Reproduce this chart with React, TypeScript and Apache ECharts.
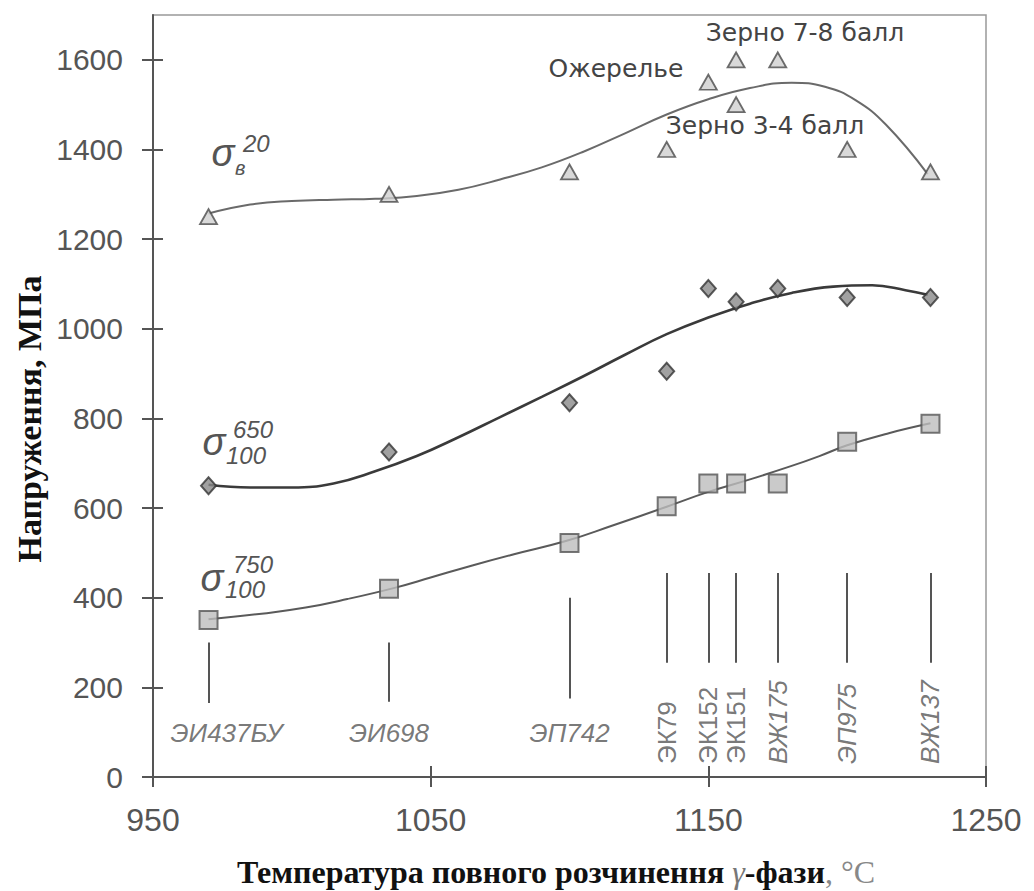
import React, { useEffect, useRef } from "react";
import * as echarts from "echarts";

// Axis ticks
const xTicks = [950, 1050, 1150, 1250];
const yTicks = [0, 200, 400, 600, 800, 1000, 1200, 1400, 1600];

// Alloys: full γ'-solvus temperature and the extent of their marker lines (MPa)
const alloyNames = ["ЭИ437БУ", "ЭИ698", "ЭП742", "ЭК79", "ЭК152", "ЭК151", "ВЖ175", "ЭП975", "ВЖ137"];
const alloyTemps = [970, 1035, 1100, 1135, 1150, 1160, 1175, 1200, 1230];
const alloyLineTop = [300, 300, 400, 455, 455, 455, 455, 455, 455];
const alloyLineBottom = [165, 168, 175, 255, 255, 255, 255, 255, 255];

// Ultimate tensile strength at 20 °C
const tensileT = [970, 1035, 1100, 1135, 1150, 1160, 1160, 1175, 1200, 1230];
const tensileV = [1250, 1300, 1350, 1400, 1550, 1600, 1500, 1600, 1400, 1350];

// 100 h rupture strength at 650 °C
const rupture650T = [970, 1035, 1100, 1135, 1150, 1160, 1175, 1200, 1230];
const rupture650V = [650, 725, 835, 905, 1090, 1060, 1090, 1070, 1070];

// 100 h rupture strength at 750 °C
const rupture750T = [970, 1035, 1100, 1135, 1150, 1160, 1175, 1200, 1230];
const rupture750V = [350, 420, 522, 604, 655, 655, 655, 748, 788];

// Trend curves
const tensileTrendT = [970, 985, 1000, 1015, 1030, 1045, 1060, 1075, 1090, 1105, 1120, 1135, 1150, 1165, 1180, 1192, 1203, 1214, 1229];
const tensileTrendV = [1257, 1277, 1285, 1288, 1290, 1296, 1310, 1333, 1360, 1395, 1436, 1478, 1512, 1537, 1549, 1540, 1510, 1455, 1345];
const rupture650TrendT = [970, 985, 1000, 1015, 1030, 1045, 1060, 1075, 1090, 1105, 1120, 1135, 1150, 1165, 1180, 1195, 1209, 1221, 1229];
const rupture650TrendV = [652, 646, 646, 655, 682, 716, 758, 803, 848, 894, 942, 988, 1025, 1056, 1080, 1094, 1097, 1086, 1076];
const rupture750TrendT = [970, 990, 1005, 1020, 1037, 1050, 1065, 1080, 1099, 1115, 1135, 1150, 1165, 1180, 1190, 1200, 1215, 1230];
const rupture750TrendV = [352, 365, 378, 397, 422, 445, 472, 497, 527, 560, 603, 636, 664, 694, 716, 740, 767, 789];

const zip = (a: number[], b: number[]) => a.map((v, i) => [v, b[i]]);

const SANS = "'Liberation Sans', Arial, sans-serif";
const SERIF = "'Liberation Serif', 'Times New Roman', serif";
const GRAY = "#555";

function buildOption(): echarts.EChartsOption {
  const uprightAlloys = new Set(["ЭК79", "ЭК152", "ЭК151"]);

  const alloyLabelData = alloyNames.map((name, i) => {
    const rotated = i >= 3;
    return {
      name,
      value: [alloyTemps[i], rotated ? 29 : 98],
      label: rotated
        ? {
            rotate: 90,
            align: "left",
            verticalAlign: "middle",
            fontStyle: uprightAlloys.has(name) ? "normal" : "italic",
          }
        : {
            rotate: 0,
            align: "center",
            verticalAlign: "middle",
            fontStyle: "italic",
            offset: i === 0 ? [18, 0] : [0, 0],
          },
    };
  });

  const tickStyle = { color: GRAY, width: 2 };
  const plain = (v: number) => String(v);

  const sigma = (x: number, y: number) => ({
    type: "text",
    x,
    y,
    style: { text: "σ", fontFamily: SANS, fontStyle: "italic", fontSize: 38, fill: GRAY, align: "center", verticalAlign: "middle" },
  });
  const idx = (text: string, x: number, y: number, size = 24) => ({
    type: "text",
    x,
    y,
    style: { text, fontFamily: SANS, fontStyle: "italic", fontSize: size, fill: GRAY, align: "left", verticalAlign: "middle" },
  });
  const note = (text: string, x: number, y: number) => ({
    type: "text",
    x,
    y,
    style: { text, fontFamily: "'DejaVu Sans', sans-serif", fontSize: 25, fill: "#444", align: "center", verticalAlign: "middle" },
  });

  return {
    animation: false,
    backgroundColor: "#fff",
    grid: { left: 153, right: 48, top: 15, bottom: 114, show: true, borderColor: "#999", borderWidth: 1.5 },
    xAxis: [
      {
        type: "value",
        min: 950,
        max: 1250,
        interval: 50,
        position: "bottom",
        axisLine: { lineStyle: { color: GRAY, width: 2 } },
        axisTick: { show: true, length: 10, customValues: xTicks, lineStyle: tickStyle },
        axisLabel: { customValues: xTicks, formatter: plain, fontFamily: SANS, fontSize: 32, color: GRAY, margin: 27 },
        splitLine: { show: false },
      },
      {
        type: "value",
        min: 950,
        max: 1250,
        interval: 50,
        position: "bottom",
        axisLine: { show: false },
        axisTick: { show: true, inside: true, length: 11, customValues: xTicks, lineStyle: tickStyle },
        axisLabel: { show: false },
        splitLine: { show: false },
      },
    ],
    yAxis: [
      {
        type: "value",
        min: 0,
        max: 1700,
        interval: 100,
        position: "left",
        axisLine: { show: true, lineStyle: { color: GRAY, width: 2 } },
        axisTick: { show: true, length: 11, customValues: yTicks, lineStyle: tickStyle },
        axisLabel: { customValues: yTicks, formatter: plain, fontFamily: SANS, fontSize: 30, color: GRAY, margin: 30 },
        splitLine: { show: false },
      },
      {
        type: "value",
        min: 0,
        max: 1700,
        interval: 100,
        position: "left",
        offset: 0,
        axisLine: { show: false },
        axisTick: { show: true, inside: true, length: 10, customValues: yTicks, lineStyle: tickStyle },
        axisLabel: { show: false },
        splitLine: { show: false },
      },
    ],
    series: [
      {
        name: "alloys",
        type: "scatter",
        data: alloyLabelData,
        symbolSize: 0,
        silent: true,
        label: {
          show: true,
          position: "inside",
          formatter: "{b}",
          fontFamily: SANS,
          fontSize: 26,
          color: GRAY,
        },
        markLine: {
          silent: true,
          symbol: "none",
          label: { show: false },
          lineStyle: { type: "solid", color: GRAY, width: 2 },
          data: alloyTemps.map((t, i) => [
            { coord: [t, alloyLineTop[i]] },
            { coord: [t, alloyLineBottom[i]] },
          ]) as any,
        },
      },
      {
        name: "tensile trend",
        type: "line",
        data: zip(tensileTrendT, tensileTrendV),
        smooth: 0.45,
        showSymbol: false,
        lineStyle: { color: "#6a6a6a", width: 2 },
        z: 2,
      },
      {
        name: "rupture 650 trend",
        type: "line",
        data: zip(rupture650TrendT, rupture650TrendV),
        smooth: 0.45,
        showSymbol: false,
        lineStyle: { color: "#3a3a3a", width: 2.6 },
        z: 2,
      },
      {
        name: "rupture 750 trend",
        type: "line",
        data: zip(rupture750TrendT, rupture750TrendV),
        smooth: 0.45,
        showSymbol: false,
        lineStyle: { color: "#5a5a5a", width: 2 },
        z: 2,
      },
      {
        name: "σв20",
        type: "scatter",
        data: zip(tensileT, tensileV),
        symbol: "triangle",
        symbolSize: [17, 15],
        itemStyle: { color: "#cfcfcf", borderColor: "#4a4a4a", borderWidth: 1.8 },
        z: 5,
      },
      {
        name: "σ650",
        type: "scatter",
        data: zip(rupture650T, rupture650V),
        symbol: "diamond",
        symbolSize: [15, 17],
        itemStyle: { color: "#8a8a8a", borderColor: "#333", borderWidth: 2 },
        z: 5,
      },
      {
        name: "σ750",
        type: "scatter",
        data: zip(rupture750T, rupture750V),
        symbol: "rect",
        symbolSize: 18,
        itemStyle: { color: "#bdbdbd", borderColor: "#555", borderWidth: 2 },
        z: 5,
      },
    ],
    graphic: [
      // σв^20
      sigma(223, 153),
      idx("в", 235, 168, 20),
      idx("20", 243, 143, 24),
      // σ100^650
      sigma(214, 442),
      idx("650", 233, 429),
      idx("100", 226, 455),
      // σ100^750
      sigma(212, 578),
      idx("750", 233, 564),
      idx("100", 225, 589),
      // notes on the tensile points
      note("Зерно 7-8 балл", 805, 32),
      note("Ожерелье", 616, 68),
      note("Зерно 3-4 балл", 765, 125),
      // axis names
      {
        type: "text",
        x: 29,
        y: 419,
        rotation: Math.PI / 2,
        style: {
          text: "Напруження, МПа",
          fontFamily: SERIF,
          fontWeight: "bold",
          fontSize: 34,
          fill: "#111",
          align: "center",
          verticalAlign: "middle",
        },
      },
      {
        type: "text",
        x: 556,
        y: 872,
        style: {
          text: "{a|Температура повного розчинення }{g|γ}{a|-фази}{c|, °С}",
          align: "center",
          verticalAlign: "middle",
          rich: {
            a: { fontFamily: SERIF, fontWeight: "bold", fontSize: 32, fill: "#111" },
            g: { fontFamily: SERIF, fontStyle: "italic", fontSize: 32, fill: "#777" },
            c: { fontFamily: SERIF, fontSize: 32, fill: "#888" },
          },
        },
      },
    ] as any,
  } as echarts.EChartsOption;
}

export default function App() {
  const ref = useRef<HTMLDivElement>(null);
  useEffect(() => {
    if (!ref.current) return;
    const chart = echarts.init(ref.current, undefined, { renderer: "svg" });
    chart.setOption(buildOption());
    return () => chart.dispose();
  }, []);
  return (
    <div
      ref={ref}
      style={{ position: "fixed", left: 0, top: 0, width: 1034, height: 891, background: "#fff" }}
    />
  );
}
